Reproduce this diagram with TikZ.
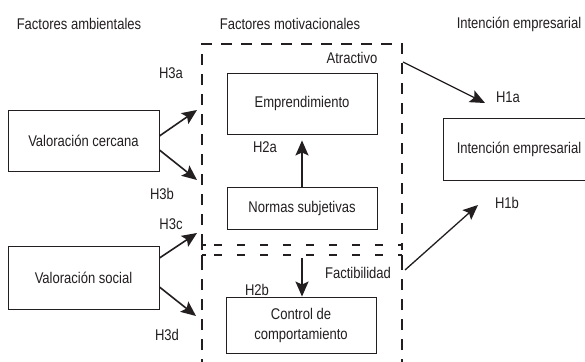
\documentclass[tikz,border=0pt]{standalone}
\usepackage{fontspec}
\setmainfont[FakeStretch=0.84]{Liberation Sans}
\usetikzlibrary{arrows.meta,calc}
\definecolor{ink}{HTML}{231F20}
\begin{document}
\begin{tikzpicture}[x=1pt,y=-1pt,
  every node/.style={font=\fontsize{15.5}{18}\selectfont, text=ink},
  box/.style={draw=ink, line width=0.9pt, align=center, inner sep=0pt},
  lbl/.style={inner sep=0pt},
  arr/.style={draw=ink, line width=1.6pt, -{Stealth[length=15pt,width=13pt,inset=3pt]}},
  frame/.style={draw=ink, line width=1.8pt, dash pattern=on 11pt off 9pt},
  mid/.style={draw=ink, line width=1.5pt, dash pattern=on 8pt off 15pt, dash phase=11pt}
]
\useasboundingbox (0,0) rectangle (585,361);
\clip (0,0) rectangle (585,361);
\fill[white] (0,0) rectangle (585,361);

% headings
\node[lbl] (h1) at (79,24) {Factores ambientales};
\node[lbl] (h2) at (290,24) {Factores motivacionales};
\node[lbl] (h3) at (519,24) {Intención empresarial};

% dashed frames
\draw[frame] (202,245) -- (202,44) -- (402,44) -- (402,245);
\draw[mid] (202,245) -- (402,245);
\draw[mid] (202,255) -- (402,255);
\draw[frame] (202,370) -- (202,255);
\draw[frame] (402,370) -- (402,255);
\draw[draw=ink, line width=1.5pt] (202,245) -- (202,250) (402,245) -- (402,250)
  (202,255) -- (202,259) (402,255) -- (402,259) (202,245) -- (206,245) (398,245) -- (402,245)
  (202,255) -- (206,255) (398,255) -- (402,255);

% boxes
\node[box, minimum width=151pt, minimum height=61pt] (vc) at (83.5,140.5) {Valoración cercana};
\node[box, minimum width=151pt, minimum height=63pt] (vs) at (83.5,277.5) {Valoración social};
\node[box, minimum width=150pt, minimum height=61pt] (em) at (302,103.5) {Emprendimiento};
\node[box, minimum width=150pt, minimum height=42pt] (ns) at (302,208) {Normas subjetivas};
\node[box, minimum width=150pt, minimum height=56pt] (cc) at (301,325) {Control de\\[2pt]comportamiento};
\node[box, minimum width=152pt, minimum height=62pt] (ie) at (519,149) {Intención empresarial};

% coordinates on frames
\coordinate (t3a) at (197,110);
\coordinate (t3b) at (197,180);
\coordinate (t3c) at (197,233);
\coordinate (t3d) at (196,316);
\coordinate (sAt) at (403,62);
\coordinate (t1a) at (485,103);
\coordinate (sFa) at (405,270);
\coordinate (t1b) at (478,205);
\coordinate (s2b) at (302,258);

% arrows
\draw[arr] ([yshift=4.5pt]vc.east) -- (t3a);
\draw[arr] ([yshift=-9.5pt]vc.east) -- (t3b);
\draw[arr] ([yshift=19.5pt]vs.east) -- (t3c);
\draw[arr] ([yshift=-9.5pt]vs.east) -- (t3d);
\draw[arr, shorten >=6pt] (ns.north) -- (em.south);
\draw[arr] (s2b) -- (cc.north -| s2b);
\draw[arr, line width=1.3pt] (sAt) -- (t1a);
\draw[arr, line width=1.3pt] (sFa) -- (t1b);

% labels
\node[lbl] (l3a) at (171,73) {H3a};
\node[lbl] (l3b) at (162,194) {H3b};
\node[lbl] (l3c) at (171,224) {H3c};
\node[lbl] (l3d) at (167,335) {H3d};
\node[lbl] (l2a) at (265,147) {H2a};
\node[lbl] (l2b) at (257,290) {H2b};
\node[lbl] (lat) at (352,58) {Atractivo};
\node[lbl] (lfa) at (358,273) {Factibilidad};
\node[lbl] (l1a) at (508,97) {H1a};
\node[lbl] (l1b) at (507,203) {H1b};
\end{tikzpicture}
\end{document}
